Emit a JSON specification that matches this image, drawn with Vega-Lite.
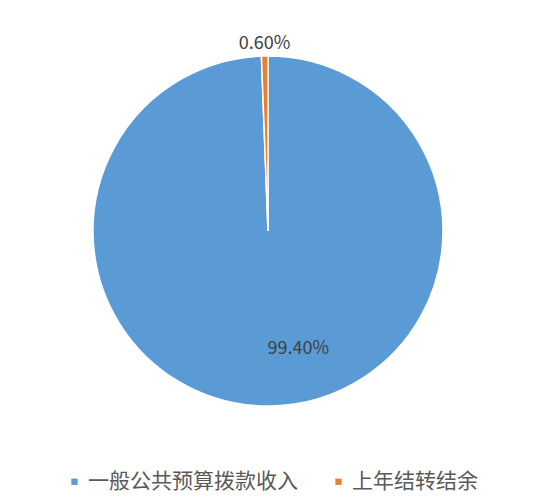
{
  "$schema": "https://vega.github.io/schema/vega-lite/v6.json",
  "width": 536,
  "height": 462,
  "autosize": "none",
  "padding": {"top": 0, "left": 0, "right": 1, "bottom": 42},
  "background": "white",
  "config": {"view": {"stroke": null}, "font": "Noto Sans CJK SC"},
  "data": {
    "values": [
      {"category": "一般公共预算拨款收入", "value": 99.4, "label": "99.40%"},
      {"category": "上年结转结余", "value": 0.6, "label": "0.60%"}
    ]
  },
  "encoding": {
    "theta": {"field": "value", "type": "quantitative", "stack": true},
    "order": {"field": "value", "type": "quantitative", "sort": "descending"}
  },
  "layer": [
    {
      "mark": {"type": "arc", "radius": 175, "stroke": "white", "strokeWidth": 1.5},
      "encoding": {
        "color": {
          "field": "category",
          "type": "nominal",
          "scale": {"domain": ["一般公共预算拨款收入", "上年结转结余"], "range": ["#5B9BD5", "#ED7D31"]},
          "legend": {
            "title": null,
            "orient": "none",
            "direction": "horizontal",
            "legendX": 64,
            "legendY": 471,
            "symbolType": "square",
            "symbolSize": 40,
            "symbolStrokeWidth": 0,
            "labelFont": "Noto Sans CJK SC",
            "labelFontSize": 21,
            "labelColor": "#595959",
            "labelOffset": 3,
            "columnPadding": 30,
            "padding": 0,
            "labelLimit": 400
          }
        }
      }
    },
    {
      "mark": {"type": "text", "radius": 187, "fontSize": 18, "color": "#404040", "font": "Noto Sans CJK SC"},
      "encoding": {
        "text": {"condition": {"test": "datum.category === '上年结转结余'", "field": "label"}, "value": ""}
      }
    },
    {
      "mark": {"type": "text", "radius": 118, "dx": 28, "fontSize": 18, "color": "#404040", "font": "Noto Sans CJK SC"},
      "encoding": {
        "text": {"condition": {"test": "datum.category === '一般公共预算拨款收入'", "field": "label"}, "value": ""}
      }
    }
  ]
}
